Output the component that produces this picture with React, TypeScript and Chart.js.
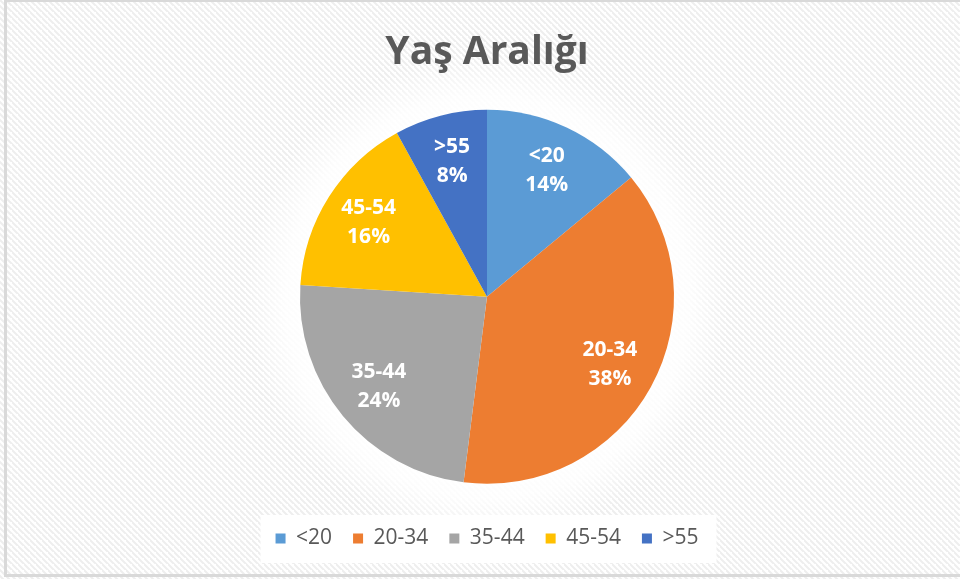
import React, { useEffect, useRef } from "react";
import { Chart, registerables } from "chart.js";

Chart.register(...registerables);

const titleText = "Yaş Aralığı";
const categories = ["<20", "20-34", "35-44", "45-54", ">55"];
const values = [14, 38, 24, 16, 8];
const colors = ["#5B9BD5", "#ED7D31", "#A5A5A5", "#FFC000", "#4472C4"];

function makePattern(ctx: CanvasRenderingContext2D) {
  const size = 6;
  const c = document.createElement("canvas");
  c.width = size;
  c.height = size;
  const p = c.getContext("2d")!;
  p.fillStyle = "#ffffff";
  p.fillRect(0, 0, size, size);
  p.strokeStyle = "#eeeeee";
  p.lineWidth = 2;
  p.beginPath();
  p.moveTo(-1, -1);
  p.lineTo(size + 1, size + 1);
  p.moveTo(-size - 1, -1);
  p.lineTo(1, size + 1);
  p.moveTo(size - 1, -size - 1);
  p.lineTo(2 * size + 1, size + 1);
  p.stroke();
  return ctx.createPattern(c, "repeat");
}

const backgroundPlugin = {
  id: "bgPattern",
  beforeDraw(chart: any) {
    const { ctx, width, height } = chart;
    ctx.save();
    const pat = makePattern(ctx);
    ctx.fillStyle = pat || "#fff";
    ctx.fillRect(0, 0, width, height);
    const meta = chart.getDatasetMeta(0);
    const arc = meta.data[0];
    if (arc) {
      const { x, y, outerRadius } = arc.getProps(["x", "y", "outerRadius"], true);
      const g = ctx.createRadialGradient(x, y, outerRadius * 0.9, x, y, outerRadius + 55);
      g.addColorStop(0, "rgba(255,255,255,1)");
      g.addColorStop(0.45, "rgba(255,255,255,0.85)");
      g.addColorStop(1, "rgba(255,255,255,0)");
      ctx.fillStyle = g;
      ctx.beginPath();
      ctx.arc(x, y, outerRadius + 55, 0, Math.PI * 2);
      ctx.fill();
    }
    const lg = chart.legend;
    if (lg && lg.legendHitBoxes && lg.legendHitBoxes.length) {
      const hb = lg.legendHitBoxes;
      const l = Math.min(...hb.map((h: any) => h.left)) - 15;
      const r = Math.max(...hb.map((h: any) => h.left + h.width)) + 18;
      const t = Math.min(...hb.map((h: any) => h.top)) - 13;
      const b = Math.max(...hb.map((h: any) => h.top + h.height)) + 14;
      ctx.fillStyle = "#ffffff";
      ctx.fillRect(l, t, r - l, b - t);
    }
    ctx.strokeStyle = "#d9d9d9";
    ctx.lineWidth = 3;
    ctx.strokeRect(5.5, 0.5, width + 10, 575);
    ctx.restore();
  },
};

const labelPlugin = {
  id: "sliceLabels",
  afterDatasetsDraw(chart: any) {
    const { ctx } = chart;
    const meta = chart.getDatasetMeta(0);
    const total = values.reduce((a, b) => a + b, 0);
    ctx.save();
    ctx.fillStyle = "#ffffff";
    ctx.font = "bold 21px 'Open Sans'";
    ctx.textAlign = "center";
    ctx.textBaseline = "middle";
    meta.data.forEach((el: any, i: number) => {
      const { x, y, startAngle, endAngle, outerRadius } = el.getProps(
        ["x", "y", "startAngle", "endAngle", "outerRadius"],
        true
      );
      const mid = (startAngle + endAngle) / 2;
      const r = outerRadius * 0.75;
      const px = x + Math.cos(mid) * r;
      const py = y + Math.sin(mid) * r;
      const pct = Math.round((values[i] / total) * 100) + "%";
      ctx.fillText(categories[i], px, py - 14);
      ctx.fillText(pct, px, py + 15);
    });
    ctx.restore();
  },
};

export default function App() {
  const ref = useRef<HTMLCanvasElement>(null);
  useEffect(() => {
    document.body.style.margin = "0";
    const chart = new Chart(ref.current!, {
      type: "pie",
      data: {
        labels: categories,
        datasets: [
          {
            data: values,
            backgroundColor: colors,
            borderWidth: 0,
          },
        ],
      },
      options: {
        animation: false,
        responsive: true,
        maintainAspectRatio: false,
        layout: { padding: { top: 0, bottom: 20, left: 14, right: 0 } },
        plugins: {
          title: {
            display: true,
            text: titleText,
            color: "#595959",
            font: { family: "'Open Sans'", size: 39, weight: "bold" },
            padding: { top: 29, bottom: 34 },
          },
          legend: {
            position: "bottom",
            title: {
              display: true,
              text: " ",
              font: { size: 1 },
              padding: { top: 22, bottom: 0 },
            },
            labels: {
              color: "#595959",
              font: { family: "'Open Sans'", size: 21 },
              boxWidth: 10,
              boxHeight: 10,
              padding: 21,
            },
          },
          tooltip: { enabled: false },
        },
      },
      plugins: [backgroundPlugin, labelPlugin],
    });
    return () => chart.destroy();
  }, []);
  return (
    <div style={{ position: "fixed", left: 0, top: 0, width: 960, height: 579 }}>
      <canvas ref={ref} />
    </div>
  );
}
